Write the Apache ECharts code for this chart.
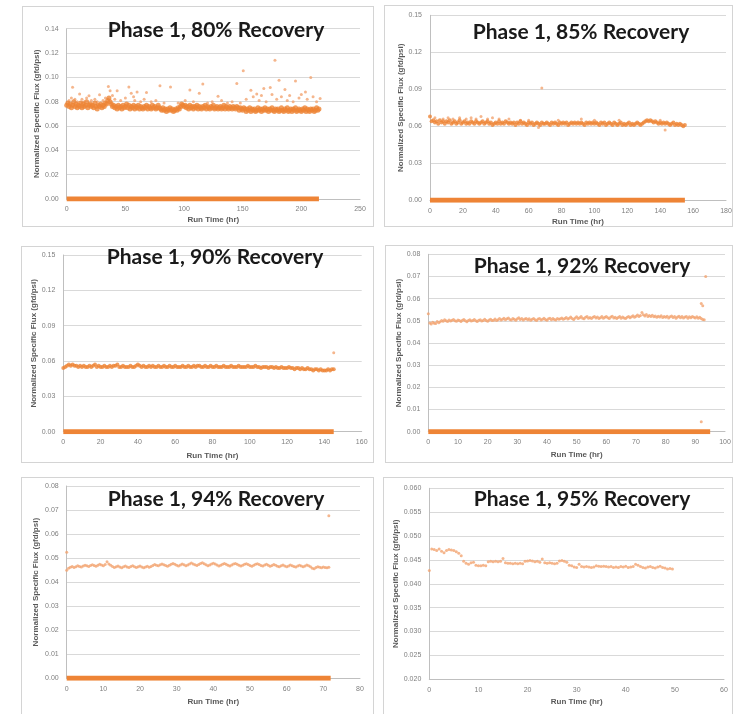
<!DOCTYPE html>
<html>
<head>
<meta charset="utf-8">
<script src="https://cdn.jsdelivr.net/npm/echarts@6/dist/echarts.min.js"></script>
<style>
  html, body { margin: 0; padding: 0; background: #fff; }
  #wrap { position: relative; width: 735px; height: 714px; overflow: hidden; }
  .box { position: absolute; border: 1px solid #d4d4d4; box-sizing: border-box; }
  #chart { position: absolute; left: 0; top: 0; width: 735px; height: 714px; }
</style>
</head>
<body>
<div id="wrap">
  <div class="box" style="left:22px;top:6px;width:352px;height:221px"></div>
  <div class="box" style="left:384px;top:5px;width:349px;height:222px"></div>
  <div class="box" style="left:21px;top:246px;width:353px;height:217px"></div>
  <div class="box" style="left:385px;top:245px;width:348px;height:218px"></div>
  <div class="box" style="left:21px;top:477px;width:353px;height:240px"></div>
  <div class="box" style="left:383px;top:477px;width:350px;height:240px"></div>
  <div id="chart"></div>
</div>
<script>
// run time step (hr) between the dense readings of each run
const step80 = 1, step85 = 1, step90 = 1, step92 = 0.5, step94 = 0.5, step95 = 0.5

// Phase 1, 80% recovery - normalized specific flux (gfd/psi), hourly
const flux80 = [
  0.077, 0.079, 0.076, 0.078, 0.075, 0.077, 0.080, 0.076, 0.078, 0.075,
  0.077, 0.076, 0.079, 0.075, 0.078, 0.076, 0.077, 0.080, 0.075, 0.077,
  0.078, 0.076, 0.077, 0.075, 0.079, 0.076, 0.074, 0.077, 0.076, 0.078,
  0.075, 0.077, 0.076, 0.079, 0.078, 0.081, 0.083, 0.080, 0.078, 0.076,
  0.077, 0.075, 0.076, 0.074, 0.077, 0.075, 0.076, 0.074, 0.077, 0.075,
  0.076, 0.078, 0.075, 0.077, 0.074, 0.076, 0.075, 0.077, 0.074, 0.076,
  0.075, 0.077, 0.074, 0.076, 0.075, 0.074, 0.076, 0.075, 0.077, 0.074,
  0.076, 0.075, 0.074, 0.077, 0.075, 0.076, 0.074, 0.075, 0.077, 0.075,
  0.074, 0.073, 0.075, 0.073, 0.074, 0.072, 0.074, 0.073, 0.075, 0.073,
  0.074, 0.072, 0.073, 0.074, 0.073, 0.075, 0.074, 0.076, 0.078, 0.077,
  0.076, 0.077, 0.075, 0.076, 0.074, 0.077, 0.075, 0.076, 0.074, 0.076,
  0.075, 0.077, 0.074, 0.076, 0.075, 0.074, 0.076, 0.075, 0.077, 0.074,
  0.076, 0.075, 0.074, 0.076, 0.075, 0.077, 0.074, 0.075, 0.076, 0.074,
  0.075, 0.076, 0.074, 0.075, 0.077, 0.074, 0.076, 0.075, 0.074, 0.076,
  0.075, 0.074, 0.076, 0.075, 0.074, 0.076, 0.075, 0.073, 0.075, 0.074,
  0.073, 0.075, 0.074, 0.072, 0.074, 0.073, 0.075, 0.072, 0.074, 0.073,
  0.074, 0.072, 0.073, 0.075, 0.073, 0.074, 0.072, 0.074, 0.073, 0.075,
  0.073, 0.074, 0.072, 0.074, 0.073, 0.075, 0.073, 0.072, 0.074, 0.073,
  0.074, 0.072, 0.073, 0.075, 0.073, 0.072, 0.074, 0.073, 0.075, 0.072,
  0.073, 0.074, 0.072, 0.074, 0.073, 0.075, 0.072, 0.073, 0.074, 0.073,
  0.072, 0.074, 0.073, 0.075, 0.072, 0.074, 0.073, 0.072, 0.074, 0.073,
  0.074, 0.072, 0.073, 0.075, 0.073, 0.074
]
// scattered high readings [hr, flux]
const extra80 = [
  [5, 0.0919], [11, 0.0864], [19, 0.0848], [28, 0.0856], [35.5, 0.0924], [37, 0.089],
  [43, 0.089], [53, 0.092], [55, 0.087], [60, 0.088], [68, 0.0875], [79.5, 0.093],
  [88.5, 0.092], [105, 0.0897], [113, 0.087], [116, 0.0945], [129, 0.0845], [145, 0.095],
  [150.5, 0.1055], [157, 0.0894], [162, 0.0864], [168, 0.0908], [173.5, 0.0917], [177.5, 0.114],
  [181, 0.0977], [186, 0.090], [195, 0.097], [203.5, 0.088], [208, 0.0998], [216, 0.0826],
  [2, 0.081], [4, 0.083], [7, 0.082], [9, 0.080], [13, 0.082], [15, 0.080], [17, 0.083],
  [21, 0.081], [24, 0.082], [26, 0.080], [31, 0.081], [33, 0.083], [39, 0.085], [41, 0.082],
  [46, 0.081], [50, 0.083], [57, 0.084], [58, 0.081], [63, 0.080], [66, 0.082], [72, 0.080],
  [76, 0.081], [83, 0.079], [95, 0.079], [101, 0.081], [108, 0.080], [120, 0.079], [124, 0.080],
  [132, 0.081], [137, 0.079], [141, 0.080], [148, 0.079], [153, 0.082], [159, 0.084], [164, 0.081],
  [166, 0.085], [170, 0.080], [175, 0.086], [179, 0.082], [183, 0.084], [188, 0.081], [190, 0.085],
  [193, 0.080], [198, 0.083], [200, 0.086], [205, 0.082], [210, 0.084], [213, 0.080]
]

// Phase 1, 85% recovery
const flux85 = [
  0.068, 0.064, 0.065, 0.063, 0.064, 0.062, 0.065, 0.063, 0.064, 0.062,
  0.064, 0.063, 0.065, 0.062, 0.063, 0.064, 0.062, 0.063, 0.065, 0.062,
  0.063, 0.064, 0.062, 0.063, 0.062, 0.064, 0.063, 0.062, 0.064, 0.063,
  0.062, 0.063, 0.064, 0.062, 0.063, 0.064, 0.062, 0.063, 0.061, 0.062,
  0.063, 0.062, 0.064, 0.062, 0.063, 0.062, 0.064, 0.063, 0.062, 0.063,
  0.062, 0.063, 0.061, 0.063, 0.062, 0.064, 0.062, 0.063, 0.062, 0.061,
  0.063, 0.062, 0.063, 0.061, 0.062, 0.063, 0.062, 0.061, 0.063, 0.062,
  0.062, 0.063, 0.062, 0.061, 0.063, 0.062, 0.063, 0.062, 0.061, 0.063,
  0.062, 0.063, 0.062, 0.063, 0.061, 0.062, 0.063, 0.062, 0.063, 0.062,
  0.063, 0.062, 0.063, 0.062, 0.061, 0.063, 0.062, 0.063, 0.062, 0.063,
  0.062, 0.063, 0.062, 0.061, 0.063, 0.062, 0.063, 0.061, 0.062, 0.063,
  0.062, 0.061, 0.063, 0.062, 0.061, 0.062, 0.063, 0.061, 0.062, 0.061,
  0.062, 0.063, 0.061, 0.062, 0.061, 0.062, 0.063, 0.062, 0.061, 0.062,
  0.063, 0.064, 0.065, 0.064, 0.065, 0.064, 0.063, 0.064, 0.063, 0.062,
  0.063, 0.062, 0.063, 0.062, 0.063, 0.062, 0.061, 0.062, 0.063, 0.061,
  0.062, 0.061, 0.062, 0.061, 0.060, 0.061
]
const extra85 = [
  [3, 0.067], [8, 0.066], [11, 0.067], [14, 0.066], [18, 0.067], [22, 0.066], [25, 0.067],
  [28, 0.066], [31, 0.068], [35, 0.066], [38, 0.067], [42, 0.066], [48, 0.066], [55, 0.065],
  [60, 0.065], [68, 0.091], [66, 0.059], [78, 0.065], [92, 0.066], [100, 0.065], [115, 0.065],
  [140, 0.065], [143, 0.057]
]

// Phase 1, 90% recovery
const flux90 = [
  0.054, 0.055, 0.056, 0.057, 0.056, 0.057, 0.056, 0.056, 0.055, 0.056,
  0.055, 0.056, 0.055, 0.055, 0.056, 0.055, 0.056, 0.057, 0.055, 0.056,
  0.055, 0.055, 0.056, 0.055, 0.055, 0.056, 0.055, 0.056, 0.056, 0.057,
  0.055, 0.055, 0.056, 0.055, 0.055, 0.055, 0.056, 0.055, 0.055, 0.056,
  0.057, 0.056, 0.055, 0.056, 0.055, 0.055, 0.056, 0.055, 0.056, 0.055,
  0.055, 0.056, 0.055, 0.055, 0.056, 0.055, 0.055, 0.056, 0.055, 0.055,
  0.056, 0.055, 0.055, 0.055, 0.056, 0.055, 0.055, 0.056, 0.055, 0.055,
  0.056, 0.055, 0.056, 0.056, 0.055, 0.055, 0.056, 0.055, 0.055, 0.056,
  0.055, 0.055, 0.056, 0.055, 0.055, 0.055, 0.056, 0.055, 0.055, 0.055,
  0.056, 0.055, 0.055, 0.055, 0.056, 0.055, 0.055, 0.055, 0.055, 0.056,
  0.055, 0.055, 0.055, 0.056, 0.055, 0.055, 0.054, 0.055, 0.055, 0.055,
  0.054, 0.055, 0.055, 0.054, 0.055, 0.054, 0.054, 0.055, 0.054, 0.054,
  0.054, 0.055, 0.054, 0.054, 0.053, 0.054, 0.054, 0.053, 0.054, 0.053,
  0.053, 0.054, 0.053, 0.053, 0.052, 0.053, 0.053, 0.052, 0.053, 0.052,
  0.052, 0.052, 0.053, 0.052, 0.053, 0.053
]
const extra90 = [[145, 0.067]]

// Phase 1, 92% recovery, half-hourly
const flux92 = [
  0.0532, 0.0490, 0.0486, 0.0494, 0.0489, 0.0488, 0.0497, 0.0491, 0.0496, 0.0502,
  0.0498, 0.0505, 0.0500, 0.0497, 0.0504, 0.0499, 0.0503, 0.0506, 0.0500, 0.0498,
  0.0504, 0.0501, 0.0497, 0.0503, 0.0506, 0.0500, 0.0496, 0.0502, 0.0505, 0.0499,
  0.0501, 0.0506, 0.0500, 0.0497, 0.0503, 0.0505, 0.0499, 0.0502, 0.0507, 0.0501,
  0.0498, 0.0504, 0.0507, 0.0501, 0.0503, 0.0508, 0.0502, 0.0505, 0.0510, 0.0504,
  0.0507, 0.0512, 0.0505, 0.0509, 0.0513, 0.0506, 0.0504, 0.0510, 0.0507, 0.0503,
  0.0509, 0.0514, 0.0506, 0.0510, 0.0504, 0.0508, 0.0511, 0.0505, 0.0509, 0.0503,
  0.0507, 0.0511, 0.0505, 0.0502, 0.0508, 0.0511, 0.0504, 0.0507, 0.0512, 0.0506,
  0.0503, 0.0509, 0.0512, 0.0505, 0.0510, 0.0506, 0.0504, 0.0511, 0.0507, 0.0509,
  0.0513, 0.0507, 0.0510, 0.0515, 0.0508, 0.0512, 0.0517, 0.0510, 0.0506, 0.0513,
  0.0518, 0.0511, 0.0514, 0.0520, 0.0512, 0.0509, 0.0516, 0.0519, 0.0512, 0.0515,
  0.0510, 0.0516, 0.0520, 0.0513, 0.0517, 0.0511, 0.0514, 0.0519, 0.0512, 0.0516,
  0.0520, 0.0514, 0.0511, 0.0517, 0.0521, 0.0513, 0.0516, 0.0510, 0.0515, 0.0519,
  0.0512, 0.0517, 0.0513, 0.0510, 0.0516, 0.0520, 0.0514, 0.0518, 0.0523, 0.0516,
  0.0521, 0.0526, 0.0519, 0.0524, 0.0538, 0.0527, 0.0522, 0.0528, 0.0520, 0.0524,
  0.0519, 0.0525, 0.0518, 0.0522, 0.0516, 0.0521, 0.0517, 0.0523, 0.0515, 0.0520,
  0.0516, 0.0521, 0.0513, 0.0518, 0.0522, 0.0515, 0.0519, 0.0512, 0.0517, 0.0521,
  0.0514, 0.0519, 0.0513, 0.0517, 0.0520, 0.0512, 0.0518, 0.0514, 0.0520, 0.0516,
  0.0513, 0.0518, 0.0512, 0.0516, 0.0510, 0.0506, 0.0505
]
const extra92 = [[92, 0.0578], [92.5, 0.0568], [93.5, 0.0700], [92, 0.0045]]

// Phase 1, 94% recovery, half-hourly
const flux94 = [
  0.0450, 0.0458, 0.0462, 0.0465, 0.0461, 0.0464, 0.0468, 0.0465, 0.0463, 0.0467,
  0.0470, 0.0468, 0.0465, 0.0469, 0.0472, 0.0469, 0.0466, 0.0470, 0.0474, 0.0471,
  0.0468, 0.0473, 0.0485, 0.0476, 0.0470, 0.0465, 0.0461, 0.0464, 0.0467, 0.0463,
  0.0460, 0.0464, 0.0467, 0.0463, 0.0461, 0.0465, 0.0468, 0.0464, 0.0461, 0.0464,
  0.0467, 0.0463, 0.0460, 0.0463, 0.0466, 0.0462, 0.0465, 0.0469, 0.0473, 0.0470,
  0.0468, 0.0472, 0.0476, 0.0472, 0.0469, 0.0466, 0.0470, 0.0474, 0.0478, 0.0474,
  0.0470, 0.0467, 0.0471, 0.0475, 0.0472, 0.0468, 0.0471, 0.0476, 0.0480, 0.0476,
  0.0472, 0.0469, 0.0473, 0.0478, 0.0481, 0.0477, 0.0472, 0.0468, 0.0471, 0.0476,
  0.0479, 0.0475, 0.0471, 0.0467, 0.0470, 0.0474, 0.0478, 0.0474, 0.0470, 0.0467,
  0.0471, 0.0475, 0.0478, 0.0474, 0.0470, 0.0467, 0.0470, 0.0474, 0.0477, 0.0473,
  0.0469, 0.0466, 0.0470, 0.0474, 0.0477, 0.0473, 0.0469, 0.0467, 0.0471, 0.0474,
  0.0470, 0.0466, 0.0469, 0.0473, 0.0470, 0.0466, 0.0464, 0.0468, 0.0471, 0.0467,
  0.0464, 0.0467, 0.0471, 0.0468, 0.0465, 0.0463, 0.0467, 0.0470, 0.0467, 0.0464,
  0.0467, 0.0471, 0.0468, 0.0464, 0.0458, 0.0456, 0.0461, 0.0464, 0.0462, 0.0460,
  0.0463, 0.0461, 0.0460, 0.0462
]
const extra94 = [[0, 0.0524], [71.5, 0.0676]]

// Phase 1, 95% recovery, half-hourly
const flux95 = [
  0.0428, 0.0473, 0.0472, 0.0470, 0.0473, 0.0468, 0.0465, 0.0470, 0.0472, 0.0471,
  0.0470, 0.0467, 0.0464, 0.0459, 0.0447, 0.0443, 0.0441, 0.0444, 0.0445, 0.0439,
  0.0438, 0.0438, 0.0439, 0.0438, 0.0446, 0.0447, 0.0446, 0.0447, 0.0446, 0.0447,
  0.0453, 0.0444, 0.0443, 0.0443, 0.0442, 0.0443, 0.0442, 0.0443, 0.0442, 0.0447,
  0.0448, 0.0449, 0.0448, 0.0446, 0.0447, 0.0445, 0.0452, 0.0444, 0.0443, 0.0444,
  0.0443, 0.0442, 0.0443, 0.0448, 0.0449, 0.0447, 0.0445, 0.0439, 0.0438, 0.0435,
  0.0434, 0.0441, 0.0436, 0.0435, 0.0436, 0.0435, 0.0434, 0.0435, 0.0438, 0.0437,
  0.0436, 0.0437, 0.0436, 0.0435, 0.0436, 0.0434, 0.0435, 0.0434, 0.0436, 0.0435,
  0.0437, 0.0434, 0.0435, 0.0436, 0.0441, 0.0439, 0.0436, 0.0434, 0.0433, 0.0435,
  0.0436, 0.0434, 0.0433, 0.0435, 0.0437, 0.0434, 0.0433, 0.0431, 0.0432, 0.0431
]
const extra95 = []

// end of the readings logged at zero flux (hr)
const zeroEnd = [215, 155, 145, 95, 72, null]

const titles = ['Phase 1, 80% Recovery', 'Phase 1, 85% Recovery', 'Phase 1, 90% Recovery',
  'Phase 1, 92% Recovery', 'Phase 1, 94% Recovery', 'Phase 1, 95% Recovery']
const xMax = [250, 180, 160, 100, 80, 60]
const xStep = [50, 20, 20, 10, 10, 10]
const yMin = [0, 0, 0, 0, 0, 0.02]
const yMax = [0.14, 0.15, 0.15, 0.08, 0.08, 0.06]
const yStep = [0.02, 0.03, 0.03, 0.01, 0.01, 0.005]
const yDigits = [2, 2, 2, 2, 2, 3]

const fluxes = [flux80, flux85, flux90, flux92, flux94, flux95]
const steps = [step80, step85, step90, step92, step94, step95]
const extras = [extra80, extra85, extra90, extra92, extra94, extra95]

// plot areas, page pixels
const grids = [
  { left: 66.7, top: 28.7, width: 293.3, height: 170.3 },
  { left: 430, top: 15.3, width: 296, height: 185 },
  { left: 63.3, top: 255, width: 298.4, height: 176.7 },
  { left: 428.3, top: 254.3, width: 296.7, height: 177.4 },
  { left: 66.7, top: 486, width: 293.3, height: 192.3 },
  { left: 429.3, top: 488.3, width: 294.7, height: 191 }
]
const titlePos = [[216, 20], [581, 22], [215, 247], [582, 256], [216, 489], [582, 489]]
const yNameGap = [25, 23, 23, 23, 27, 24]
const xNameGap = [17, 17, 20, 19, 19, 18]

const dense = '#EE8436'
const light = '#F3A470'
const label = { fontSize: 7, color: '#7f7f7f', fontFamily: 'Liberation Sans' }
const axisName = { fontSize: 8, color: '#595959', fontWeight: 'bold', fontFamily: 'Liberation Sans' }

const chart = echarts.init(document.getElementById('chart'), null, { renderer: 'canvas' })

const option = {
  animation: false,
  backgroundColor: 'transparent',
  title: titles.map((t, i) => ({
    text: t,
    left: titlePos[i][0],
    top: titlePos[i][1],
    textAlign: 'center',
    padding: 0,
    textStyle: { fontSize: 21, fontWeight: 'bold', color: '#1a1a1a', fontFamily: 'Lato' }
  })),
  grid: grids.map((g) => ({ ...g, containLabel: false })),
  xAxis: grids.map((g, i) => ({
    type: 'value',
    gridIndex: i,
    min: 0,
    max: xMax[i],
    interval: xStep[i],
    name: 'Run Time (hr)',
    nameLocation: 'middle',
    nameGap: xNameGap[i],
    nameTextStyle: axisName,
    axisLine: { show: true, onZero: false, lineStyle: { color: '#bfbfbf', width: 1 } },
    axisTick: { show: false },
    splitLine: { show: false },
    axisLabel: { ...label, margin: 7 }
  })),
  yAxis: grids.map((g, i) => ({
    type: 'value',
    gridIndex: i,
    min: yMin[i],
    max: yMax[i],
    interval: yStep[i],
    name: 'Normalized Specific Flux (gfd/psi)',
    nameLocation: 'middle',
    nameGap: yNameGap[i],
    nameTextStyle: axisName,
    axisLine: { show: true, lineStyle: { color: '#bfbfbf', width: 1 } },
    axisTick: { show: false },
    splitLine: { show: true, lineStyle: { color: '#d9d9d9', width: 1 } },
    axisLabel: { ...label, margin: 8, formatter: (v) => v.toFixed(yDigits[i]) }
  })),
  series: []
}

fluxes.forEach((vals, i) => {
  if (zeroEnd[i] !== null) {
    option.series.push({
      type: 'line',
      xAxisIndex: i,
      yAxisIndex: i,
      data: [[0, 0], [zeroEnd[i], 0]],
      symbol: 'none',
      lineStyle: { color: dense, width: 5 },
      z: 3
    })
  }
  option.series.push({
    type: 'scatter',
    xAxisIndex: i,
    yAxisIndex: i,
    data: extras[i],
    symbol: 'circle',
    symbolSize: 3,
    itemStyle: { color: light },
    z: 2
  })
  option.series.push({
    type: 'scatter',
    xAxisIndex: i,
    yAxisIndex: i,
    data: vals.map((v, k) => [k * steps[i], v]),
    symbol: 'circle',
    symbolSize: i === 0 ? 5 : (i < 3 ? 4 : 3),
    itemStyle: { color: i < 3 ? dense : light },
    z: 4
  })
})

chart.setOption(option)
window.addEventListener('resize', function () {
  chart.resize()
})
</script>
</body>
</html>
